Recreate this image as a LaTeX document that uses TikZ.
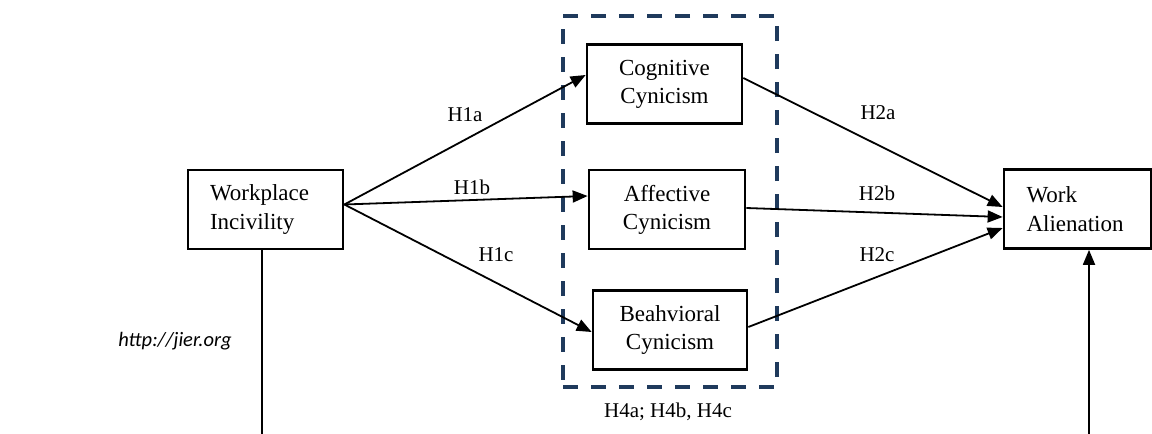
\documentclass[tikz,border=0pt]{standalone}
\usepackage{fontspec}
\setmainfont{Liberation Serif}
\newfontfamily\carlito{Carlito}
\usetikzlibrary{arrows.meta}
\begin{document}
\begin{tikzpicture}[x=1pt,y=-1pt,
  box/.style={draw,line width=2.7pt,minimum width=#1,minimum height=79pt,inner sep=0pt,
    font=\fontsize{23}{28}\selectfont,align=center},
  lbox/.style={draw,line width=2.7pt,minimum height=79pt,inner ysep=0pt,inner xsep=22pt,
    text width=#1,align=left,font=\fontsize{23}{29}\selectfont},
  lab/.style={font=\fontsize{21}{24}\selectfont,inner sep=0pt},
  conn/.style={line width=1.8pt,-{Triangle[length=15pt,width=12pt]}},
  plain/.style={line width=1.8pt},
  grp/.style={draw=navy,line width=4pt,dash pattern=on 15pt off 13pt}]
\definecolor{navy}{HTML}{1F3A5C}
\useasboundingbox (0,0) rectangle (1152,434);
\node[grp,minimum width=214pt,minimum height=371pt,inner sep=0pt] (grp) at (670,201.5) {};
\node[lbox=111pt] (wi) at (265.5,209.5) {Workplace\\Incivility};
\node[box=155pt] (cog) at (664.5,84) {Cognitive\\Cynicism};
\node[box=156pt] (aff) at (667,209.5) {Affective\\Cynicism};
\node[box=154pt] (beh) at (670,330) {Beahvioral\\Cynicism};
\node[lbox=102pt,inner xsep=22.5pt] (wa) at (1077.5,209) {Work\\Alienation};
\node[lab] (h1a) at (465,115) {H1a};
\node[lab] (h1b) at (472,187) {H1b};
\node[lab] (h1c) at (496,255) {H1c};
\node[lab] (h2a) at (878,113) {H2a};
\node[lab] (h2b) at (877,193) {H2b};
\node[lab] (h2c) at (877,255) {H2c};
\node[lab] (h4) at (668,412) {H4a; H4b, H4c};
\node[font=\carlito\itshape\fontsize{20.5}{24}\selectfont,inner sep=0pt] (url) at (175,341) {http://jier.org};
\coordinate (wibot) at (262,434);
\coordinate (wabot) at (1089,434);
\draw[conn] ([yshift=5pt]wi.east) -- ([yshift=9pt]cog.west);
\draw[conn] ([yshift=5pt]wi.east) -- ([yshift=13.5pt]aff.west);
\draw[conn] ([yshift=5pt]wi.east) -- ([yshift=-2pt]beh.west);
\draw[conn] ([yshift=6pt]cog.east) -- ([yshift=2pt]wa.west);
\draw[conn] ([yshift=1.5pt]aff.east) -- ([yshift=-8pt]wa.west);
\draw[conn] ([yshift=3pt]beh.east) -- ([yshift=-19pt]wa.west);
\draw[plain] (wi.south -| wibot) -- (wibot);
\draw[conn] (wabot) -- (wa.south -| wabot);
\end{tikzpicture}
\end{document}
